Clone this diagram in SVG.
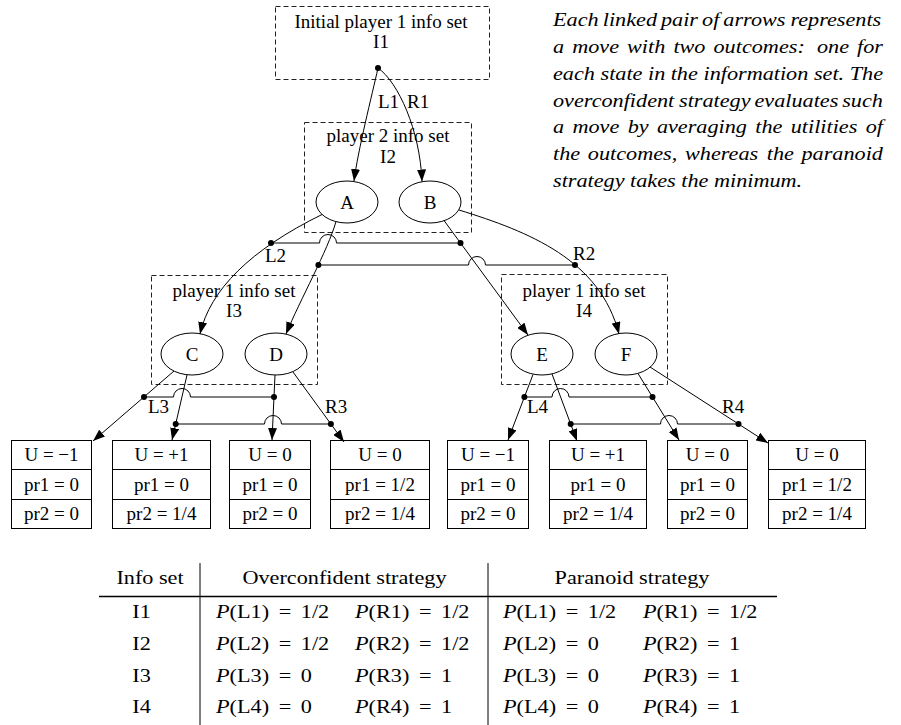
<svg xmlns="http://www.w3.org/2000/svg" width="901" height="725" viewBox="0 0 901 725">
  <defs>
    <marker id="ah" markerUnits="userSpaceOnUse" markerWidth="12" markerHeight="9" refX="12" refY="4.5" orient="auto">
      <path d="M0,0 L12,4.5 L0,9 z" fill="#000"/>
    </marker>
    <style>
      text { font-family: "Liberation Serif", "Times New Roman", serif; fill: #000; }
      .lbl { font-size: 19px; }
      .mid { text-anchor: middle; }
      .info { fill: none; stroke: #222; stroke-width: 1; stroke-dasharray: 5,3; }
      .state { fill: #fff; stroke: #000; stroke-width: 1; }
      .leaf { fill: #fff; stroke: #000; stroke-width: 1; }
      .edge { fill: none; stroke: #000; stroke-width: 1; marker-end: url(#ah); }
      .link { fill: none; stroke: #000; stroke-width: 1; }
      .dot { fill: #000; }
      .note { font-size: 19px; font-style: italic; }
      .tb { font-size: 19px; }
      .cell { font-size: 19px; word-spacing: 3.5px; }
      .rule { stroke: #000; }
    </style>
  </defs>

  <rect width="901" height="725" fill="#fff"/>

  <!-- information sets -->
  <g id="I1">
    <rect class="info" x="275.5" y="6.5" width="214" height="73"/>
    <text class="lbl mid" x="381" y="28">Initial player 1 info set</text>
    <text class="lbl mid" x="381" y="48">I1</text>
    <circle class="dot" cx="378" cy="68" r="3"/>
  </g>
  <g id="I2">
    <rect class="info" x="304.5" y="122.5" width="167" height="110"/>
    <text class="lbl mid" x="388" y="142">player 2 info set</text>
    <text class="lbl mid" x="388" y="163">I2</text>
  </g>
  <g id="I3">
    <rect class="info" x="151.5" y="275.5" width="166" height="109"/>
    <text class="lbl mid" x="234" y="297">player 1 info set</text>
    <text class="lbl mid" x="234" y="317">I3</text>
  </g>
  <g id="I4">
    <rect class="info" x="501.5" y="274.5" width="166" height="110"/>
    <text class="lbl mid" x="584" y="297">player 1 info set</text>
    <text class="lbl mid" x="584" y="317">I4</text>
  </g>

  <!-- game states -->
  <g id="A"><ellipse class="state" cx="347" cy="202" rx="31" ry="21"/><text class="lbl mid" x="347" y="209">A</text></g>
  <g id="B"><ellipse class="state" cx="430" cy="202" rx="31" ry="21"/><text class="lbl mid" x="430" y="209">B</text></g>
  <g id="C"><ellipse class="state" cx="192" cy="354" rx="31" ry="21"/><text class="lbl mid" x="192" y="361">C</text></g>
  <g id="D"><ellipse class="state" cx="276" cy="354" rx="31" ry="21"/><text class="lbl mid" x="276" y="361">D</text></g>
  <g id="E"><ellipse class="state" cx="542" cy="354" rx="31" ry="21"/><text class="lbl mid" x="542" y="361">E</text></g>
  <g id="F"><ellipse class="state" cx="626" cy="354" rx="31" ry="21"/><text class="lbl mid" x="626" y="361">F</text></g>

  <!-- terminal outcomes -->
  <g id="leaf1">
    <rect class="leaf" x="11.5" y="440.5" width="80" height="88"/>
    <path class="link" d="M11.5,469.5 H91.5 M11.5,499.5 H91.5"/>
    <text class="lbl mid" x="51.5" y="461">U = −1</text>
    <text class="lbl mid" x="51.5" y="491">pr1 = 0</text>
    <text class="lbl mid" x="51.5" y="520">pr2 = 0</text>
  </g>
  <g id="leaf2">
    <rect class="leaf" x="112.5" y="440.5" width="98" height="88"/>
    <path class="link" d="M112.5,469.5 H210.5 M112.5,499.5 H210.5"/>
    <text class="lbl mid" x="161.5" y="461">U = +1</text>
    <text class="lbl mid" x="161.5" y="491">pr1 = 0</text>
    <text class="lbl mid" x="161.5" y="520">pr2 = 1/4</text>
  </g>
  <g id="leaf3">
    <rect class="leaf" x="229.5" y="440.5" width="81" height="88"/>
    <path class="link" d="M229.5,469.5 H310.5 M229.5,499.5 H310.5"/>
    <text class="lbl mid" x="270" y="461">U = 0</text>
    <text class="lbl mid" x="270" y="491">pr1 = 0</text>
    <text class="lbl mid" x="270" y="520">pr2 = 0</text>
  </g>
  <g id="leaf4">
    <rect class="leaf" x="330.5" y="440.5" width="99" height="88"/>
    <path class="link" d="M330.5,469.5 H429.5 M330.5,499.5 H429.5"/>
    <text class="lbl mid" x="380" y="461">U = 0</text>
    <text class="lbl mid" x="380" y="491">pr1 = 1/2</text>
    <text class="lbl mid" x="380" y="520">pr2 = 1/4</text>
  </g>
  <g id="leaf5">
    <rect class="leaf" x="447.5" y="440.5" width="81" height="88"/>
    <path class="link" d="M447.5,469.5 H528.5 M447.5,499.5 H528.5"/>
    <text class="lbl mid" x="488" y="461">U = −1</text>
    <text class="lbl mid" x="488" y="491">pr1 = 0</text>
    <text class="lbl mid" x="488" y="520">pr2 = 0</text>
  </g>
  <g id="leaf6">
    <rect class="leaf" x="549.5" y="440.5" width="97" height="88"/>
    <path class="link" d="M549.5,469.5 H646.5 M549.5,499.5 H646.5"/>
    <text class="lbl mid" x="598" y="461">U = +1</text>
    <text class="lbl mid" x="598" y="491">pr1 = 0</text>
    <text class="lbl mid" x="598" y="520">pr2 = 1/4</text>
  </g>
  <g id="leaf7">
    <rect class="leaf" x="667.5" y="440.5" width="80" height="88"/>
    <path class="link" d="M667.5,469.5 H747.5 M667.5,499.5 H747.5"/>
    <text class="lbl mid" x="707.5" y="461">U = 0</text>
    <text class="lbl mid" x="707.5" y="491">pr1 = 0</text>
    <text class="lbl mid" x="707.5" y="520">pr2 = 0</text>
  </g>
  <g id="leaf8">
    <rect class="leaf" x="768.5" y="440.5" width="97" height="88"/>
    <path class="link" d="M768.5,469.5 H865.5 M768.5,499.5 H865.5"/>
    <text class="lbl mid" x="817" y="461">U = 0</text>
    <text class="lbl mid" x="817" y="491">pr1 = 1/2</text>
    <text class="lbl mid" x="817" y="520">pr2 = 1/4</text>
  </g>

  <!-- moves, with linked outcome pairs -->
  <g id="connectors">
    <!-- I1 move -->
    <path class="edge" d="M378,68 C372,95 358,150 354,181"/>
    <path class="edge" d="M378,68 C398,82 420,130 422,181.5"/>
    <text class="lbl" x="378" y="108">L1</text>
    <text class="lbl" x="407" y="108">R1</text>

    <!-- I2 move -->
    <path class="edge" d="M322,214.5 C250,250 210,290 200,334"/>
    <path class="edge" d="M336,221.5 C328,250 300,300 286,334"/>
    <path class="edge" d="M444,220.5 L528,335"/>
    <path class="edge" d="M459,210 C530,232 600,260 619,334"/>
    <path class="link" d="M271,243 H319.5 A8.5,8.5 0 0 1 336.5,243 H460.5"/>
    <path class="link" d="M318.4,265 H468.5 A8.5,8.5 0 0 1 485.5,265 H575"/>
    <circle class="dot" cx="271" cy="243" r="3"/>
    <circle class="dot" cx="460.5" cy="243" r="3"/>
    <circle class="dot" cx="318.4" cy="265" r="3"/>
    <circle class="dot" cx="575" cy="265" r="3"/>
    <text class="lbl" x="265" y="262">L2</text>
    <text class="lbl" x="573" y="260">R2</text>

    <!-- I3 move -->
    <path class="edge" d="M174,371 L93,441"/>
    <path class="edge" d="M187,375 L172,440"/>
    <path class="edge" d="M275,375 L272,440"/>
    <path class="edge" d="M293,372 L344,442"/>
    <path class="link" d="M144,397 H173.5 A8.5,8.5 0 0 1 190.5,397 H274"/>
    <path class="link" d="M175.7,424 H264.5 A8.5,8.5 0 0 1 281.5,424 H330.9"/>
    <circle class="dot" cx="144" cy="397" r="3"/>
    <circle class="dot" cx="274" cy="397" r="3"/>
    <circle class="dot" cx="175.7" cy="424" r="3"/>
    <circle class="dot" cx="330.9" cy="424" r="3"/>
    <text class="lbl" x="148" y="413">L3</text>
    <text class="lbl" x="325" y="413">R3</text>

    <!-- I4 move -->
    <path class="edge" d="M533,374.5 L508,440"/>
    <path class="edge" d="M552,374 L577,441"/>
    <path class="edge" d="M638,373.5 L679,440"/>
    <path class="edge" d="M650,367 L768,443"/>
    <path class="link" d="M524.4,397 H552 A8.5,8.5 0 0 1 569,397 H652.5"/>
    <path class="link" d="M570.7,424 H660.5 A8.5,8.5 0 0 1 677.5,424 H738.5"/>
    <circle class="dot" cx="524.4" cy="397" r="3"/>
    <circle class="dot" cx="652.5" cy="397" r="3"/>
    <circle class="dot" cx="570.7" cy="424" r="3"/>
    <circle class="dot" cx="738.5" cy="424" r="3"/>
    <text class="lbl" x="527" y="413">L4</text>
    <text class="lbl" x="722" y="413">R4</text>
  </g>

  <!-- explanatory note, justified word by word -->
  <g id="note">
    <text class="note" transform="translate(553,26) scale(1.17,1)"><tspan x="0">Each</tspan><tspan x="42.5">linked</tspan><tspan x="92.3">pair</tspan><tspan x="127.4">of</tspan><tspan x="145.6">arrows</tspan><tspan x="202.9">represents</tspan></text>
    <text class="note" transform="translate(553,53) scale(1.17,1)"><tspan x="0">a</tspan><tspan x="16.4">move</tspan><tspan x="63.3">with</tspan><tspan x="102.9">two</tspan><tspan x="137.2">outcomes:</tspan><tspan x="225.6">one</tspan><tspan x="259.9">for</tspan></text>
    <text class="note" transform="translate(553,80) scale(1.17,1)"><tspan x="0">each</tspan><tspan x="40.6">state</tspan><tspan x="81.2">in</tspan><tspan x="100.6">the</tspan><tspan x="128.6">information</tspan><tspan x="223">set.</tspan><tspan x="253.6">The</tspan></text>
    <text class="note" transform="translate(553,106.5) scale(1.17,1)"><tspan x="0">overconfident</tspan><tspan x="107.7">strategy</tspan><tspan x="172.2">evaluates</tspan><tspan x="247.2">such</tspan></text>
    <text class="note" transform="translate(553,133) scale(1.17,1)"><tspan x="0">a</tspan><tspan x="16.6">move</tspan><tspan x="63.8">by</tspan><tspan x="88.8">averaging</tspan><tspan x="172.9">the</tspan><tspan x="203.2">utilities</tspan><tspan x="267.3">of</tspan></text>
    <text class="note" transform="translate(553,160) scale(1.17,1)"><tspan x="0">the</tspan><tspan x="29.8">outcomes,</tspan><tspan x="112.8">whereas</tspan><tspan x="182.7">the</tspan><tspan x="212.4">paranoid</tspan></text>
    <text class="note" transform="translate(553,186.5) scale(1.17,1)">strategy takes the minimum.</text>
  </g>

  <!-- strategy table -->
  <g id="table">
    <line class="rule" x1="99" y1="596.5" x2="777" y2="596.5" stroke-width="1.5"/>
    <line class="rule" x1="200" y1="563" x2="200" y2="725" stroke-width="1"/>
    <line class="rule" x1="488" y1="563" x2="488" y2="725" stroke-width="1"/>

    <text class="tb mid" transform="translate(150,584) scale(1.17,1)">Info set</text>
    <text class="tb mid" transform="translate(344.5,584) scale(1.17,1)">Overconfident strategy</text>
    <text class="tb mid" transform="translate(632,584) scale(1.17,1)">Paranoid strategy</text>

    <text class="tb mid" transform="translate(141.5,618) scale(1.17,1)">I1</text>
    <text class="tb mid" transform="translate(141.5,650) scale(1.17,1)">I2</text>
    <text class="tb mid" transform="translate(141.5,681.5) scale(1.17,1)">I3</text>
    <text class="tb mid" transform="translate(141.5,713) scale(1.17,1)">I4</text>

    <text class="cell" transform="translate(216,618) scale(1.17,1)"><tspan font-style="italic">P</tspan>(L1) = 1/2</text>
    <text class="cell" transform="translate(355,618) scale(1.17,1)"><tspan font-style="italic">P</tspan>(R1) = 1/2</text>
    <text class="cell" transform="translate(503,618) scale(1.17,1)"><tspan font-style="italic">P</tspan>(L1) = 1/2</text>
    <text class="cell" transform="translate(643,618) scale(1.17,1)"><tspan font-style="italic">P</tspan>(R1) = 1/2</text>

    <text class="cell" transform="translate(216,650) scale(1.17,1)"><tspan font-style="italic">P</tspan>(L2) = 1/2</text>
    <text class="cell" transform="translate(355,650) scale(1.17,1)"><tspan font-style="italic">P</tspan>(R2) = 1/2</text>
    <text class="cell" transform="translate(503,650) scale(1.17,1)"><tspan font-style="italic">P</tspan>(L2) = 0</text>
    <text class="cell" transform="translate(643,650) scale(1.17,1)"><tspan font-style="italic">P</tspan>(R2) = 1</text>

    <text class="cell" transform="translate(216,681.5) scale(1.17,1)"><tspan font-style="italic">P</tspan>(L3) = 0</text>
    <text class="cell" transform="translate(355,681.5) scale(1.17,1)"><tspan font-style="italic">P</tspan>(R3) = 1</text>
    <text class="cell" transform="translate(503,681.5) scale(1.17,1)"><tspan font-style="italic">P</tspan>(L3) = 0</text>
    <text class="cell" transform="translate(643,681.5) scale(1.17,1)"><tspan font-style="italic">P</tspan>(R3) = 1</text>

    <text class="cell" transform="translate(216,713) scale(1.17,1)"><tspan font-style="italic">P</tspan>(L4) = 0</text>
    <text class="cell" transform="translate(355,713) scale(1.17,1)"><tspan font-style="italic">P</tspan>(R4) = 1</text>
    <text class="cell" transform="translate(503,713) scale(1.17,1)"><tspan font-style="italic">P</tspan>(L4) = 0</text>
    <text class="cell" transform="translate(643,713) scale(1.17,1)"><tspan font-style="italic">P</tspan>(R4) = 1</text>
  </g>
</svg>
